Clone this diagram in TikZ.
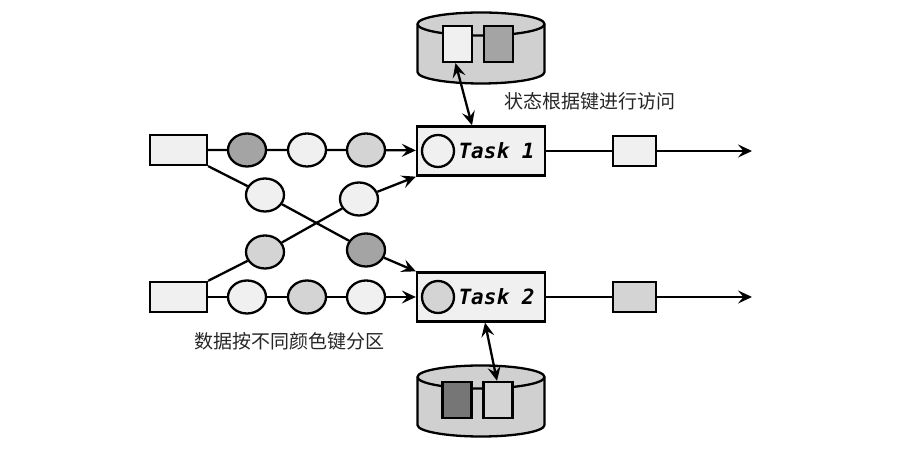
\documentclass[tikz,border=0pt]{standalone}
\usepackage{fontspec}
\usepackage{xcolor}
\usetikzlibrary{arrows.meta,positioning,shapes.geometric}
\newfontfamily\cjk{Noto Sans CJK SC}
\newfontfamily\taskfont{DejaVu Sans Mono}
\definecolor{lightg}{HTML}{F0F0F0}
\definecolor{midg}{HTML}{D4D4D4}
\definecolor{darkg}{HTML}{A4A4A4}
\definecolor{deepg}{HTML}{767676}
\definecolor{cylg}{HTML}{D0D0D0}

\begin{document}
\begin{tikzpicture}[x=0.5pt,y=0.5pt,line width=1.15pt,
    rec/.style={draw,rectangle,inner sep=0pt,minimum width=28.5pt,minimum height=15pt},
    key/.style={draw,ellipse,inner sep=0pt,minimum width=19pt,minimum height=16.5pt},
    task/.style={draw,fill=lightg,inner sep=0pt,minimum width=64pt,minimum height=24.5pt},
    slot/.style={draw,rectangle,inner sep=0pt,minimum width=14.5pt,minimum height=18pt},
    arr/.style={-{Stealth[length=7pt,width=6.5pt,inset=2.7pt]}},
    biarr/.style={{Stealth[length=7pt,width=6.5pt,inset=2.7pt]}-{Stealth[length=7pt,width=6.5pt,inset=2.7pt]}},
    lbl/.style={font=\cjk\fontsize{9.5pt}{11pt}\selectfont,text=black!85},
    tasklbl/.style={font=\taskfont\bfseries\itshape\fontsize{10.5pt}{12pt}\selectfont}]
    \useasboundingbox (0,0) rectangle (911,465);

    % state stores
    \foreach \tp/\bt in {441/393,88/40} {
      \filldraw[fill=cylg] (417.5,\tp) -- (417.5,\bt)
        arc[start angle=180,end angle=360,x radius=63.5,y radius=11.5]
        -- (544.5,\tp)
        arc[start angle=0,end angle=180,x radius=63.5,y radius=11.5] -- cycle;
      \draw (417.5,\tp) arc[start angle=180,end angle=360,x radius=63.5,y radius=11.5];
    }
    \node[slot,fill=lightg] (tr1) at (457.5,421) {};
    \node[slot,fill=darkg] (tr2) at (498.5,421) {};
    \node[slot,fill=deepg] (br1) at (457,65) {};
    \node[slot,fill=midg] (br2) at (498,65) {};

    % sources
    \node[rec,fill=lightg] (src1) at (178.5,315) {};
    \node[rec,fill=lightg] (src2) at (178.5,168) {};

    % keyed records
    \node[key,fill=darkg] (k11) at (247,315) {};
    \node[key,fill=lightg] (k12) at (307,315) {};
    \node[key,fill=midg] (k13) at (366,315) {};
    \node[key,fill=lightg] (c1) at (265,270) {};
    \node[key,fill=lightg] (c2) at (359,266) {};
    \node[key,fill=midg] (c3) at (265,213) {};
    \node[key,fill=darkg] (c4) at (366,215) {};
    \node[key,fill=lightg] (k21) at (247,168) {};
    \node[key,fill=midg] (k22) at (307,168) {};
    \node[key,fill=lightg] (k23) at (366,168) {};

    % tasks
    \node[task] (task1) at (481,314) {};
    \node[task] (task2) at (481,168) {};
    \node[draw,circle,fill=lightg,minimum size=16pt,inner sep=0pt] (t1c) at (438,314) {};
    \node[draw,circle,fill=midg,minimum size=16pt,inner sep=0pt] (t2c) at (438,168) {};
    \node[tasklbl] (t1l) at (496.5,314) {Task 1};
    \node[tasklbl] (t2l) at (496.5,168) {Task 2};

    % outputs
    \node[rec,fill=lightg,minimum width=21.5pt] (out1) at (634.5,314) {};
    \node[rec,fill=midg,minimum width=21.5pt] (out2) at (634.5,168) {};
    \coordinate (end1) at (752,314);
    \coordinate (end2) at (752,168);

    \draw[arr] (src1) -- (k11) -- (k12) -- (k13) -- (task1);
    \draw[arr] (src1.south east) -- (c1) -- (c4) -- (task2.north west);
    \draw[arr] (src2.north east) -- (c3) -- (c2) -- (task1.south west);
    \draw[arr] (src2) -- (k21) -- (k22) -- (k23) -- (task2);
    \draw[arr] (task1) -- (out1) -- (end1);
    \draw[arr] (task2) -- (out2) -- (end2);
    \draw[biarr] ([xshift=-1pt]tr1.south) -- ([xshift=-4.5pt]task1.north);
    \draw[biarr] ([xshift=2pt]task2.south) -- ([xshift=-0.5pt]br2.north);

    \node[lbl] (note1) at (590,364) {状态根据键进行访问};
    \node[lbl] (note2) at (289,124) {数据按不同颜色键分区};
  \end{tikzpicture}
\end{document}
